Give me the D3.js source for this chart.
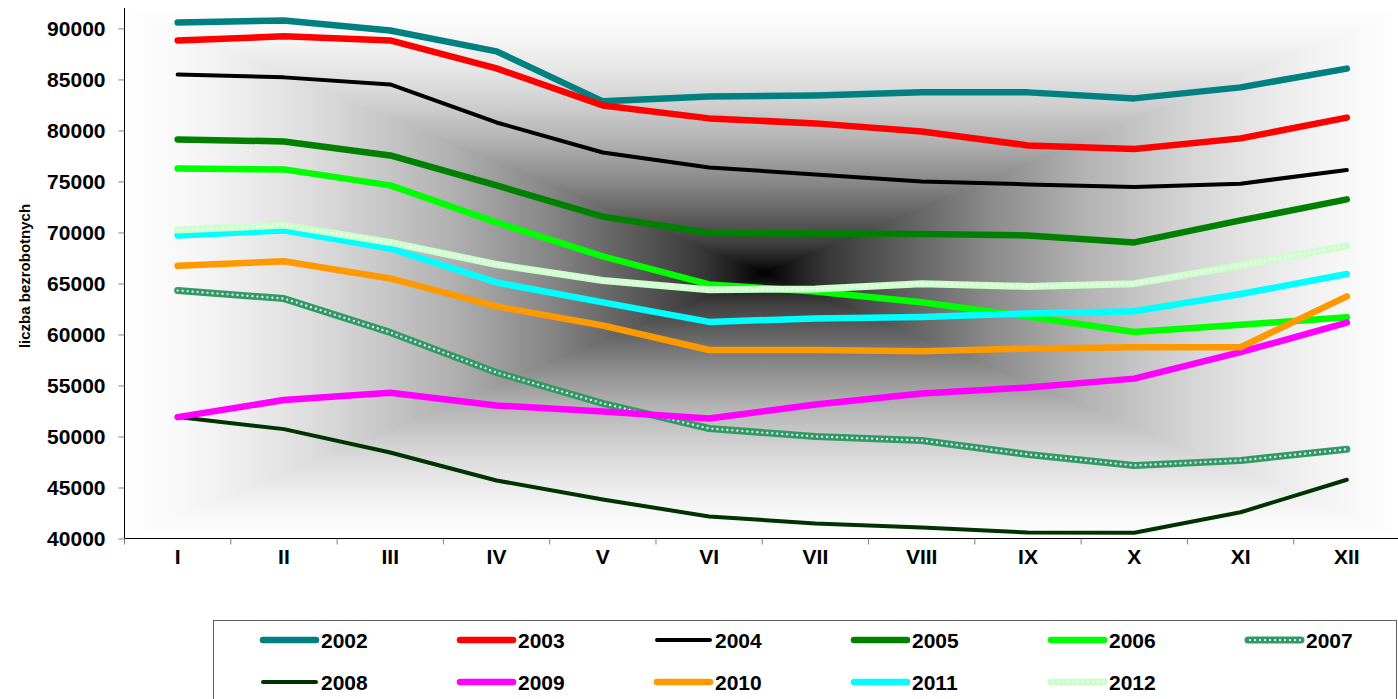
<!DOCTYPE html>
<html><head><meta charset="utf-8">
<script src="https://cdn.jsdelivr.net/npm/d3@7"></script>
<style>html,body{margin:0;padding:0;background:#fff;overflow:hidden}svg{display:block}text{font-family:"Liberation Sans",Arial,sans-serif;font-weight:bold}</style>
</head><body>
<svg id="c" width="1398" height="699"></svg>
<script>
const months = ["I","II","III","IV","V","VI","VII","VIII","IX","X","XI","XII"];
const yTicks = [40000,45000,50000,55000,60000,65000,70000,75000,80000,85000,90000];
const years = ["2002","2003","2004","2005","2006","2007","2008","2009","2010","2011","2012"];
const colors = ["#008080","#FF0000","#000000","#008000","#00FF00","#339966","#003300","#FF00FF","#FF9900","#00FFFF","#CCFFCC"];
const widths = [6.5,6.5,4,6.5,6.5,7,4,6.5,6.5,6.5,7];
const dotted = [false,false,false,false,false,true,false,false,false,false,true];
const v2002 = [90590,90780,89800,87750,82850,83330,83430,83730,83730,83140,84220,86060];
const v2003 = [88820,89220,88820,86080,82450,81180,80690,79900,78530,78170,79220,81260];
const v2004 = [85490,85200,84510,80780,77840,76370,75690,75000,74710,74450,74780,76120];
const v2005 = [79120,78920,77550,74610,71550,69950,69900,69850,69700,69020,71180,73240];
const v2006 = [76270,76180,74610,70980,67650,64900,64220,63150,61760,60250,60950,61690];
const v2007 = [64310,63520,60200,56270,53240,50780,50000,49610,48240,47160,47650,48750];
const v2008 = [51900,50720,48430,45690,43820,42160,41470,41080,40590,40570,42570,45760];
const v2009 = [51900,53570,54280,53040,52450,51760,53140,54220,54800,55670,58260,61160];
const v2010 = [66730,67180,65490,62750,60880,58480,58480,58350,58630,58750,58750,63730];
const v2011 = [69710,70200,68430,65100,63140,61230,61570,61720,62060,62280,63960,65930];
const v2012 = [70230,70720,69020,66860,65290,64380,64460,64980,64710,64980,66760,68700];
const series = [v2002,v2003,v2004,v2005,v2006,v2007,v2008,v2009,v2010,v2011,v2012];

const svg = d3.select("#c");
const L = 124.5, R = 1400, T = 8, B = 538.5;
const x = d3.scaleBand().domain(months).range([L, R]);
const y = d3.scaleLinear().domain([40000, 92000]).range([B, T]);

// background rectangular path gradient
const gx0 = 125, gx1 = 1405, gy0 = T, gy1 = B, cx = (gx0+gx1)/2, cy = (gy0+gy1)/2;
const defs = svg.append("defs");
const nSt = 40;
const rampT = [0, 0.05, 0.11, 0.23, 0.35, 0.5, 0.62, 0.73, 0.88, 1];
const rampB = [0, 0.12, 0.24, 0.39, 0.54, 0.7, 0.8, 0.88, 0.96, 1];
const rampF = d3.scaleLinear().domain(rampT).range(rampB);
function ramp(t){ const b = Math.round(255*rampF(t)); return `rgb(${b},${b},${b})`; }
const hg = defs.append("linearGradient").attr("id","gh").attr("gradientUnits","userSpaceOnUse")
  .attr("x1",gx0).attr("y1",0).attr("x2",gx1).attr("y2",0);
for(let i=0;i<=nSt;i++){ const o=i/nSt; const t=Math.abs(o-0.5)*2; hg.append("stop").attr("offset",o).attr("stop-color",ramp(t)); }
const tg = defs.append("linearGradient").attr("id","gt").attr("gradientUnits","userSpaceOnUse")
  .attr("x1",0).attr("y1",gy0).attr("x2",0).attr("y2",cy);
for(let i=0;i<=nSt;i++){ const o=i/nSt; tg.append("stop").attr("offset",o).attr("stop-color",ramp(1-o)); }
const bg = defs.append("linearGradient").attr("id","gb").attr("gradientUnits","userSpaceOnUse")
  .attr("x1",0).attr("y1",cy).attr("x2",0).attr("y2",gy1);
for(let i=0;i<=nSt;i++){ const o=i/nSt; bg.append("stop").attr("offset",o).attr("stop-color",ramp(o)); }
defs.append("clipPath").attr("id","pc").append("rect").attr("x",gx0).attr("y",gy0).attr("width",1392-gx0).attr("height",gy1-gy0);
const gbg = svg.append("g").attr("clip-path","url(#pc)");
gbg.append("rect").attr("x",gx0).attr("y",gy0).attr("width",gx1-gx0).attr("height",gy1-gy0).attr("fill","url(#gh)");
gbg.append("path").attr("d",`M${gx0},${gy0}L${gx1},${gy0}L${cx},${cy}Z`).attr("fill","url(#gt)");
gbg.append("path").attr("d",`M${gx0},${gy1}L${gx1},${gy1}L${cx},${cy}Z`).attr("fill","url(#gb)");

// axes
const yAxis = d3.axisLeft(y).tickValues(yTicks).tickSize(6).tickPadding(13).tickFormat(d3.format("d"));
const ya = svg.append("g").attr("transform",`translate(${L},0)`).call(yAxis);
ya.select(".domain").attr("stroke","#000").attr("d",`M0,${T}V${B}`);
ya.selectAll(".tick line").attr("stroke","#808080");
ya.selectAll("text").attr("font-size",21).attr("font-family",'"Liberation Sans",Arial,sans-serif').attr("font-weight","bold").attr("fill","#000");

const xAxis = d3.axisBottom(x).tickSize(0).tickPadding(11);
const xa = svg.append("g").attr("transform",`translate(0,${B})`).call(xAxis);
xa.select(".domain").attr("stroke","#000").attr("d",`M${L},0H1398`);
xa.selectAll("text").attr("font-size",21).attr("font-family",'"Liberation Sans",Arial,sans-serif').attr("font-weight","bold").attr("fill","#000");
svg.append("g").selectAll("line").data(months.slice(1).concat(["_end"])).join("line")
  .attr("x1",d=>d==="_end"?R:x(d)).attr("x2",d=>d==="_end"?R:x(d))
  .attr("y1",B).attr("y2",B+6).attr("stroke","#808080");
svg.append("line").attr("x1",L).attr("x2",L).attr("y1",B).attr("y2",B+6).attr("stroke","#808080");

svg.append("text").attr("transform",`translate(30,276) rotate(-90)`).attr("text-anchor","middle")
  .attr("font-size",15).text("liczba bezrobotnych");

// lines
const line = d3.line().x((d,i)=>x(months[i])+x.bandwidth()/2).y(d=>y(d));
const lg = svg.append("g");
series.forEach((s,k)=>{
  lg.append("path").attr("d",line(s)).attr("fill","none").attr("stroke",colors[k]).attr("stroke-width",widths[k])
    .attr("stroke-linejoin","round").attr("stroke-linecap","round");
  if(dotted[k]) lg.append("path").attr("d",line(s)).attr("fill","none").attr("stroke","#fff").attr("stroke-width",2.2)
    .attr("stroke-dasharray","0 5").attr("stroke-linecap","round");
});

// legend
svg.append("rect").attr("x",213.5).attr("y",620.5).attr("width",1183).attr("height",100).attr("fill","#fff").attr("stroke","#606060").attr("stroke-width",1);
const leg = svg.append("g");
years.forEach((yr,k)=>{
  const col = k<6 ? k : k-6, row = k<6 ? 0 : 1;
  const lx = 263 + col*197, ly = 640 + row*42;
  leg.append("line").attr("x1",lx).attr("x2",lx+53).attr("y1",ly).attr("y2",ly).attr("stroke",colors[k])
    .attr("stroke-width",widths[k]).attr("stroke-linecap","round");
  if(dotted[k]) leg.append("line").attr("x1",lx+2).attr("x2",lx+53).attr("y1",ly).attr("y2",ly).attr("stroke","#fff")
    .attr("stroke-width",2.2).attr("stroke-dasharray","0 5").attr("stroke-linecap","round");
  leg.append("text").attr("x",lx+58).attr("y",ly+7.5).attr("font-size",21).text(yr);
});
</script>
</body></html>
